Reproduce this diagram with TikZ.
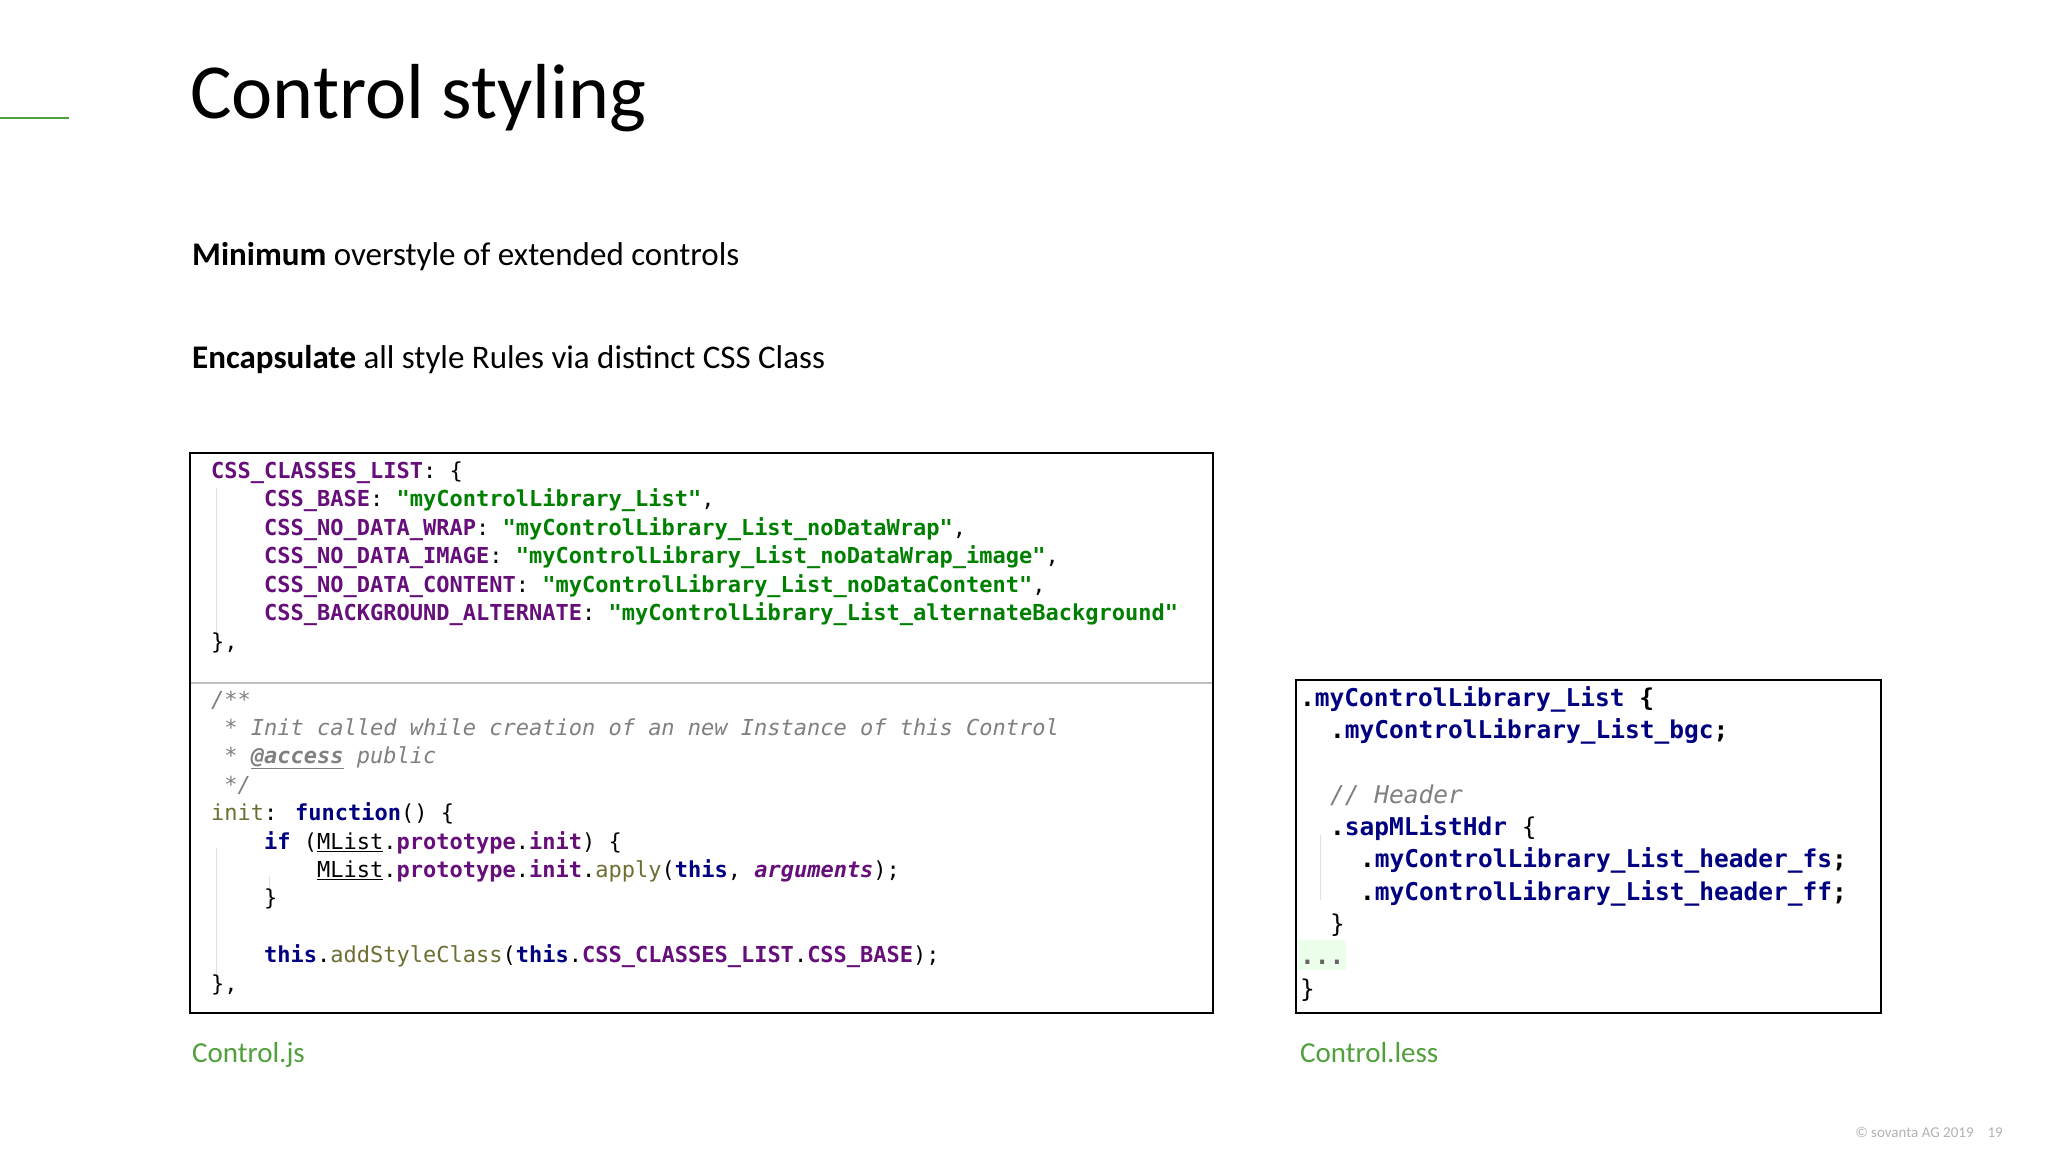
\documentclass[tikz,border=0pt]{standalone}
\usepackage{fontspec}
\setmainfont{Carlito}
\newfontfamily\codefont{DejaVu Sans Mono}
\definecolor{kpur}{RGB}{102,14,122}
\definecolor{kgrn}{RGB}{0,128,0}
\definecolor{knav}{RGB}{0,0,128}
\definecolor{kgry}{RGB}{128,128,128}
\definecolor{kolv}{RGB}{110,110,50}
\definecolor{sgreen}{RGB}{80,160,60}
\newcommand{\jk}[1]{\textcolor{kpur}{\bfseries #1}}
\newcommand{\js}[1]{\textcolor{kgrn}{\bfseries #1}}
\newcommand{\jn}[1]{\textcolor{knav}{\bfseries #1}}
\newcommand{\jc}[1]{\textcolor{kgry}{\itshape #1}}
\newcommand{\jo}[1]{\textcolor{kolv}{#1}}
\begin{document}
\begin{tikzpicture}[x=1pt,y=-1pt,
  cl/.style={anchor=base west,inner sep=0pt,font=\codefont\fontsize{22}{22}\selectfont},
  cr/.style={anchor=base west,inner sep=0pt,font=\codefont\fontsize{24.5}{24.5}\selectfont\bfseries\color{knav}},
  body/.style={anchor=base west,inner sep=0pt,font=\fontsize{33}{33}\selectfont},
  filecap/.style={anchor=base west,inner sep=0pt,font=\fontsize{29}{29}\selectfont,text=sgreen},
  guide/.style={draw=black!12,line width=1pt}]
\useasboundingbox (0,0) rectangle (2048,1152);
\fill[white] (0,0) rectangle (2048,1152);
\draw[sgreen,line width=1.5pt] (0,118) -- (69,118);
\node[anchor=base west,inner sep=0pt,font=\fontsize{78}{78}\selectfont] (title) at (190,118) {Control styling};
\node[body] (t1) at (192,265) {\textbf{Minimum} overstyle of extended controls};
\node[body] (t2) at (192,368) {\textbf{Encapsulate} all style Rules via distinct CSS Class};
% box 1
\draw[line width=1.5pt] (190,453) rectangle (1213,1013);
\draw[black!25,line width=1.5pt] (191,683) -- (1212,683);
\draw[guide] (216,488) -- (216,640);
\draw[guide] (216,848) -- (216,985);
\draw[guide] (269,876) -- (269,900);
\node[cl] (a1) at (211,478) {\jk{CSS\_CLASSES\_LIST}: \{};
\node[cl] (a2) at (264,506.5) {\jk{CSS\_BASE}: \js{"myControlLibrary\_List"},};
\node[cl] (a3) at (264,535) {\jk{CSS\_NO\_DATA\_WRAP}: \js{"myControlLibrary\_List\_noDataWrap"},};
\node[cl] (a4) at (264,563.5) {\jk{CSS\_NO\_DATA\_IMAGE}: \js{"myControlLibrary\_List\_noDataWrap\_image"},};
\node[cl] (a5) at (264,592) {\jk{CSS\_NO\_DATA\_CONTENT}: \js{"myControlLibrary\_List\_noDataContent"},};
\node[cl] (a6) at (264,620.5) {\jk{CSS\_BACKGROUND\_ALTERNATE}: \js{"myControlLibrary\_List\_alternateBackground"}};
\node[cl] (a7) at (211,649) {\},};
\node[cl] (b1) at (211,707) {\jc{/**}};
\node[cl] (b2) at (211,735.4) {\jc{ * Init called while creation of an new Instance of this Control}};
\node[cl] (b3) at (211,763.8) {\jc{ * \underline{\bfseries @access} public}};
\node[cl] (b4) at (211,792.2) {\jc{ */}};
\node[cl] (b5) at (211,820.6) {\jo{init}: \jn{function}() \{};
\node[cl] (b6) at (264,849) {\jn{if} (\underline{MList}.\jk{prototype}.\jk{init}) \{};
\node[cl] (b7) at (317,877.4) {\underline{MList}.\jk{prototype}.\jk{init}.\jo{apply}(\jn{this}, \textcolor{kpur}{\bfseries\itshape arguments});};
\node[cl] (b8) at (264,905.8) {\}};
\node[cl] (b9) at (264,962.6) {\jn{this}.\jo{addStyleClass}(\jn{this}.\jk{CSS\_CLASSES\_LIST}.\jk{CSS\_BASE});};
\node[cl] (b10) at (211,991) {\},};
% box 2
\draw[line width=1.5pt] (1296,680) rectangle (1881,1013);
\draw[guide] (1320,835) -- (1320,900);
\fill[green!8] (1298,940) rectangle (1346,970);
\node[cr] (c1) at (1300,706) {\textcolor{black}{.}myControlLibrary\_List \textcolor{black}{\{}};
\node[cr] (c2) at (1330,738.3) {\textcolor{black}{.}myControlLibrary\_List\_bgc\textcolor{black}{;}};
\node[cr] (c3) at (1330,803) {\textcolor{kgry}{\mdseries\itshape // Header}};
\node[cr] (c4) at (1330,835.3) {\textcolor{black}{.}sapMListHdr \textcolor{black}{\mdseries\{}};
\node[cr] (c5) at (1360,867.6) {\textcolor{black}{.}myControlLibrary\_List\_header\_fs\textcolor{black}{;}};
\node[cr] (c6) at (1360,900) {\textcolor{black}{.}myControlLibrary\_List\_header\_ff\textcolor{black}{;}};
\node[cr] (c7) at (1330,932.3) {\textcolor{black}{\mdseries\}}};
\node[cr] (c8) at (1300,964.6) {\textcolor{black!60}{...}};
\node[cr] (c9) at (1300,997) {\textcolor{black}{\mdseries\}}};
\node[filecap] (l1) at (192,1062) {Control.js};
\node[filecap] (l2) at (1300,1062) {Control.less};
\node[anchor=base east,inner sep=0pt,font=\fontsize{15}{15}\selectfont,text=black!30] (ft) at (2003,1137) {© sovanta AG 2019\hspace{14pt}19};
\end{tikzpicture}
\end{document}
